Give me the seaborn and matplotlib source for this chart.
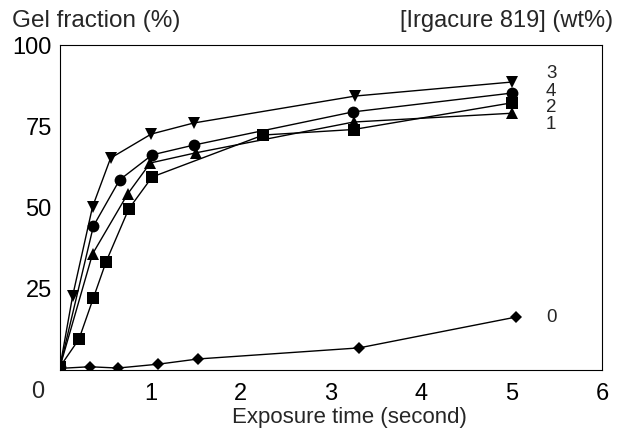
import matplotlib
matplotlib.use("Agg")
import matplotlib.pyplot as plt
import seaborn as sns
import pandas as pd

# ---- data ----
x_0 = [0.0, 0.33, 0.64, 1.09, 1.53, 3.31, 5.05]
y_0 = [0.5, 1.0, 0.6, 1.8, 3.4, 6.8, 16.3]

x_1 = [0.0, 0.36, 0.75, 1.0, 1.5, 3.25, 5.0]
y_1 = [1.0, 35.7, 54.2, 63.7, 66.8, 76.3, 79.0]

x_2 = [0.0, 0.21, 0.37, 0.51, 0.76, 1.02, 2.25, 3.25, 5.0]
y_2 = [1.0, 9.5, 22.2, 33.3, 49.5, 59.4, 72.3, 74.0, 82.2]

x_3 = [0.0, 0.14, 0.36, 0.56, 1.01, 1.48, 3.27, 5.0]
y_3 = [1.0, 22.8, 50.2, 65.2, 72.6, 76.0, 84.3, 88.6]

x_4 = [0.0, 0.37, 0.66, 1.02, 1.48, 3.24, 5.0]
y_4 = [1.0, 44.3, 58.5, 66.2, 69.2, 79.4, 85.2]

series_names = ["0", "1", "2", "3", "4"]
x_ticks = [1, 2, 3, 4, 5, 6]
y_ticks = [25, 50, 75, 100]

# ---- styling ----
sns.set_style("white")
plt.rcParams["font.family"] = ["Liberation Sans", "DejaVu Sans"]

fig = plt.figure(figsize=(6.2, 4.32), dpi=100)
ax = fig.add_axes([60 / 620, 1 - 370 / 432, 542 / 620, 325 / 432])

series = {
    "0": (x_0, y_0, "D", 6.5),
    "1": (x_1, y_1, "^", 8.5),
    "2": (x_2, y_2, "s", 8.0),
    "3": (x_3, y_3, "v", 9.0),
    "4": (x_4, y_4, "o", 8.5),
}
for name in series_names:
    xs, ys, mk, ms = series[name]
    df = pd.DataFrame({"x": xs, "y": ys})
    sns.lineplot(data=df, x="x", y="y", ax=ax, color="black", linewidth=1.0,
                 marker=mk, markersize=ms, markeredgewidth=0,
                 markerfacecolor="black", sort=False, legend=False)

# series labels at the right
label_pos = {"3": 91.2, "4": 85.8, "2": 80.8, "1": 75.6, "0": 16.0}
for name, yy in label_pos.items():
    ax.text(5.38, yy, name, fontsize=13.5, ha="left", va="center")

ax.set_xlim(0, 6)
ax.set_ylim(0, 100)
ax.set_xticks(x_ticks)
ax.set_yticks(y_ticks)
ax.set_xticklabels([str(t) for t in x_ticks])
ax.set_yticklabels([str(t) for t in y_ticks])
ax.tick_params(axis="x", direction="in", length=11, width=0.8, pad=9,
               labelsize=17, colors="black")
ax.tick_params(axis="y", direction="in", length=9.5, width=0.8, pad=6,
               labelsize=17, colors="black")
for i, t in enumerate(ax.xaxis.get_major_ticks()):
    if x_ticks[i] in (1, 2):
        t.tick1line.set_visible(False)

for s in ax.spines.values():
    s.set_visible(True)
    s.set_color("black")
    s.set_linewidth(0.8)

ax.set_xlabel("Exposure time (second)", fontsize=16, labelpad=0)
ax.xaxis.set_label_coords((349 - 60) / 542, -37 / 325)
ax.set_ylabel("")

# shared origin label
fig.text(38 / 620, 1 - 392 / 432, "0", fontsize=17, ha="center", va="center")
# top labels
fig.text(12 / 620, 1 - 21 / 432, "Gel fraction (%)", fontsize=17.5,
         ha="left", va="center")
fig.text(613 / 620, 1 - 21 / 432, "[Irgacure 819] (wt%)", fontsize=17,
         ha="right", va="center")

fig.savefig("out.png", dpi=100)
